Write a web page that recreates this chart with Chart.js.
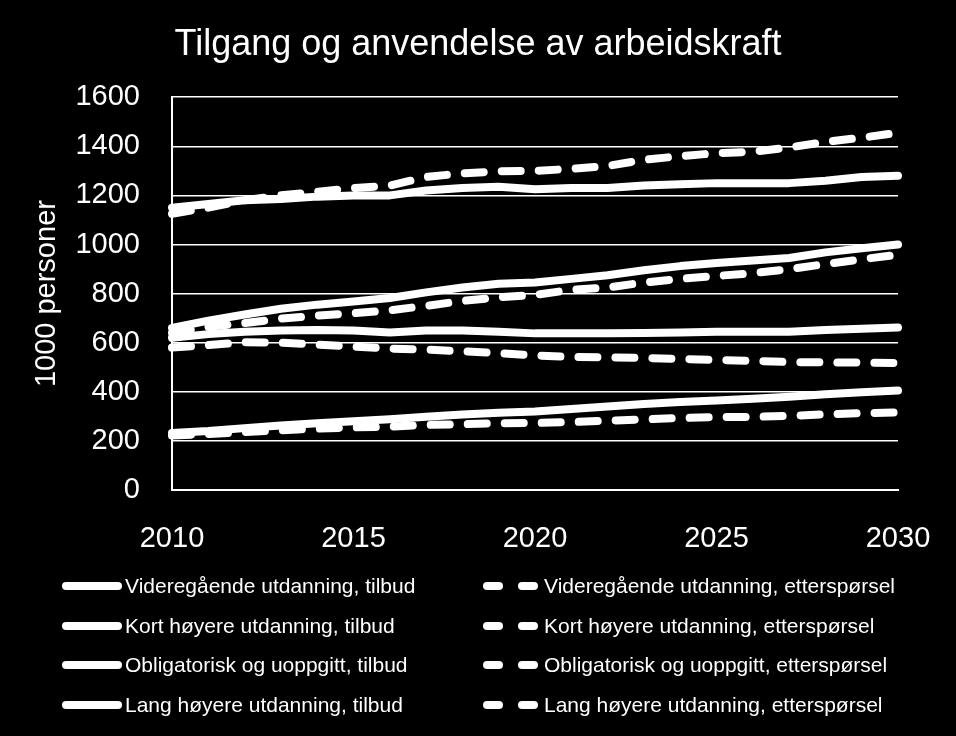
<!DOCTYPE html>
<html>
<head>
<meta charset="utf-8">
<script src="https://cdn.jsdelivr.net/npm/chart.js@4.4.1/dist/chart.umd.min.js"></script>
<style>
  html, body { margin: 0; padding: 0; background: #000; }
  #wrap { position: relative; width: 956px; height: 736px; background: #000; overflow: hidden; }
  #chart { position: absolute; left: 0; top: 0; }
  .item { position: absolute; display: flex; align-items: center; height: 30px; white-space: nowrap;
          font-family: 'Liberation Sans', Arial, sans-serif; font-size: 21px; color: #fff; }
  .item svg { display: block; }
</style>
</head>
<body>
<div id="wrap">
  <canvas id="chart" width="956" height="736"></canvas>
  <div id="legend"></div>
</div>
<script>
// ==================== DONNEES ====================
const years = [2010, 2011, 2012, 2013, 2014, 2015, 2016, 2017, 2018, 2019, 2020,
               2021, 2022, 2023, 2024, 2025, 2026, 2027, 2028, 2029, 2030];
const yTicks = [0, 200, 400, 600, 800, 1000, 1200, 1400, 1600];

const videregaendeTilbud = [1150, 1165, 1180, 1185, 1195, 1200, 1200, 1220, 1230, 1235, 1225,
                            1230, 1230, 1240, 1245, 1250, 1250, 1250, 1260, 1275, 1280];
const videregaendeEttersporsel = [1125, 1150, 1180, 1200, 1215, 1230, 1240, 1275, 1290, 1298, 1300,
                                  1308, 1320, 1345, 1360, 1372, 1378, 1395, 1418, 1435, 1455];
const kortTilbud = [660, 690, 715, 738, 755, 768, 782, 805, 825, 840, 845,
                    860, 875, 895, 912, 925, 935, 945, 968, 985, 1000];
const kortEttersporsel = [640, 665, 680, 698, 710, 720, 732, 750, 770, 785, 795,
                          815, 825, 845, 860, 872, 883, 900, 920, 940, 958];
const obligatoriskTilbud = [620, 635, 645, 650, 652, 650, 642, 650, 650, 645, 638,
                            638, 638, 640, 642, 645, 645, 645, 652, 657, 662];
const obligatoriskEttersporsel = [580, 590, 602, 600, 592, 584, 576, 572, 565, 558, 548,
                                  542, 540, 538, 534, 530, 526, 521, 520, 519, 517];
const langTilbud = [232, 240, 252, 263, 272, 280, 288, 298, 308, 315, 320,
                    330, 340, 350, 358, 365, 372, 380, 390, 398, 405];
const langEttersporsel = [222, 228, 236, 243, 250, 255, 258, 265, 268, 272, 273,
                          277, 282, 288, 293, 297, 298, 302, 308, 313, 316];

const FONT = "'Liberation Sans', Arial, sans-serif";
const DASH = [19, 18];

// une serie = trait plein (tilbud) ou tirets (etterspørsel)
function serie(label, data, dashed) {
  return {
    label: label,
    data: data,
    borderColor: '#fff',
    backgroundColor: '#fff',
    borderWidth: 8,
    borderDash: dashed ? DASH : [],
    borderCapStyle: 'round',
    borderJoinStyle: 'round',
    pointRadius: 0,
    tension: 0,
    fill: false
  };
}

const datasets = [
  serie('Videregående utdanning, tilbud', videregaendeTilbud, false),
  serie('Videregående utdanning, etterspørsel', videregaendeEttersporsel, true),
  serie('Kort høyere utdanning, tilbud', kortTilbud, false),
  serie('Kort høyere utdanning, etterspørsel', kortEttersporsel, true),
  serie('Obligatorisk og uoppgitt, tilbud', obligatoriskTilbud, false),
  serie('Obligatorisk og uoppgitt, etterspørsel', obligatoriskEttersporsel, true),
  serie('Lang høyere utdanning, tilbud', langTilbud, false),
  serie('Lang høyere utdanning, etterspørsel', langEttersporsel, true)
];

// ==================== GRAPHIQUE ====================
Chart.defaults.font.family = FONT;
Chart.defaults.color = '#fff';

new Chart(document.getElementById('chart'), {
  type: 'line',
  data: { labels: years, datasets: datasets },
  options: {
    responsive: false,
    animation: false,
    layout: { padding: 0 },
    plugins: {
      legend: { display: false },
      tooltip: { enabled: false },
      title: {
        display: true,
        text: 'Tilgang og anvendelse av arbeidskraft',
        color: '#fff',
        font: { size: 36, weight: 'normal' },
        padding: { top: 23, bottom: 31 }
      }
    },
    scales: {
      x: {
        type: 'category',
        offset: false,
        grid: { display: false },
        border: { display: true, color: '#fff', width: 2 },
        ticks: {
          autoSkip: false,
          maxRotation: 0,
          padding: 24,
          color: '#fff',
          font: { size: 29 },
          callback: (v, i) => (years[i] % 5 === 0 ? String(years[i]) : '')
        },
        afterFit: (s) => { s.height = 736 - 490; }
      },
      y: {
        min: yTicks[0],
        max: yTicks[yTicks.length - 1],
        afterBuildTicks: (s) => { s.ticks = yTicks.map(v => ({ value: v })); },
        grid: { color: '#fff', lineWidth: 1.5, drawTicks: false },
        border: { display: true, color: '#fff', width: 2 },
        ticks: { padding: 32, color: '#fff', font: { size: 29 }, callback: (v) => String(v) },
        title: {
          display: true,
          text: '1000 personer',
          color: '#fff',
          font: { size: 29 },
          padding: { top: 30, bottom: 0 }
        },
        afterFit: (s) => { s.width = 172; }
      },
      // axe vide a droite : garde la marge sans decentrer le titre
      yMarge: {
        position: 'right',
        display: true,
        grid: { display: false },
        border: { display: false },
        ticks: { display: false },
        afterFit: (s) => { s.width = 956 - 898; }
      }
    }
  }
});

// ==================== LEGENDE ====================
// deux colonnes : tilbud à gauche, etterspørsel à droite
const legend = document.getElementById('legend');
const colLeft = [62, 483];
const gapText = [3, 2];
datasets.forEach((ds, i) => {
  const col = i % 2, row = Math.floor(i / 2);
  const dashed = ds.borderDash.length > 0;
  const w = dashed ? 59 : 60;
  const line = dashed
    ? `<line x1="4" y1="5" x2="55" y2="5" stroke="#fff" stroke-width="8" stroke-linecap="round" stroke-dasharray="12 23"/>`
    : `<line x1="4" y1="5" x2="56" y2="5" stroke="#fff" stroke-width="8" stroke-linecap="round"/>`;
  const el = document.createElement('div');
  el.className = 'item';
  el.style.left = colLeft[col] + 'px';
  el.style.top = (586 - 15 + row * 39.7) + 'px';
  el.innerHTML = `<svg width="${w}" height="10">${line}</svg><span style="margin-left:${gapText[col]}px">${ds.label}</span>`;
  legend.appendChild(el);
});
</script>
</body>
</html>
